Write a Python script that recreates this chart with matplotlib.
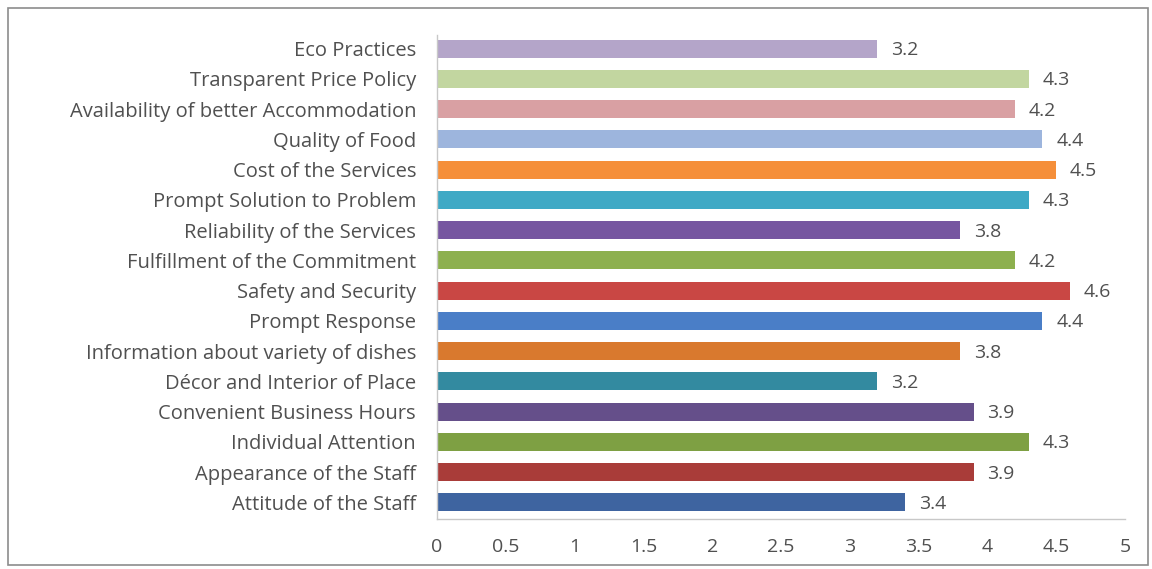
import matplotlib.pyplot as plt
from matplotlib.patches import Rectangle

# bottom to top, as drawn
categories = [
    "Attitude of the Staff",
    "Appearance of the Staff",
    "Individual Attention",
    "Convenient Business Hours",
    "Décor and Interior of Place",
    "Information about variety of dishes",
    "Prompt Response",
    "Safety and Security",
    "Fulfillment of the Commitment",
    "Reliability of the Services",
    "Prompt Solution to Problem",
    "Cost of the Services",
    "Quality of Food",
    "Availability of better Accommodation",
    "Transparent Price Policy",
    "Eco Practices",
]
scores = [3.4, 3.9, 4.3, 3.9, 3.2, 3.8, 4.4, 4.6, 4.2, 3.8, 4.3, 4.5, 4.4, 4.2, 4.3, 3.2]
colors = [
    "#3e64a0", "#a93c39", "#7ea043", "#654f8a", "#338aa0", "#d9792e",
    "#4a7ec7", "#c94744", "#8db04e", "#7656a0", "#3fa9c5", "#f58f3a",
    "#9db5dd", "#d9a0a3", "#c2d6a0", "#b4a5c9",
]
xticks = [0, 0.5, 1, 1.5, 2, 2.5, 3, 3.5, 4, 4.5, 5]

plt.rcParams['font.family'] = ['Open Sans', 'DejaVu Sans']
text_col = "#505050"

fig = plt.figure(figsize=(11.52, 5.69), dpi=100)
ax = fig.add_axes([0.3793, 0.0879, 0.5973, 0.8506])

ypos = list(range(len(categories)))
ax.barh(ypos, scores, height=0.6, color=colors)
for y, v in zip(ypos, scores):
    ax.text(v + 0.1, y - 0.05, f"{v:.1f}", va="center", ha="left",
            fontsize=14, color=text_col)

ax.set_xlim(0, 5)
ax.set_ylim(-0.55, 15.45)
ax.set_xticks(xticks)
ax.set_xticklabels([f"{t:g}" for t in xticks])
ax.set_yticks(ypos)
ax.set_yticklabels(categories, fontsize=14.5)
ax.tick_params(axis="both", length=0, labelcolor=text_col)
ax.tick_params(axis="x", pad=14, labelsize=14)
ax.tick_params(axis="y", pad=15)

for s in ["top", "right"]:
    ax.spines[s].set_visible(False)
for s in ["left", "bottom"]:
    ax.spines[s].set_color("#c8c8c8")
    ax.spines[s].set_linewidth(1)

fig.patches.append(Rectangle((8 / 1152, 4 / 569), 1140 / 1152, 557 / 569,
                             transform=fig.transFigure, fill=False,
                             edgecolor="#8c8c8c", linewidth=1.2))

fig.savefig("out.png", dpi=100)
